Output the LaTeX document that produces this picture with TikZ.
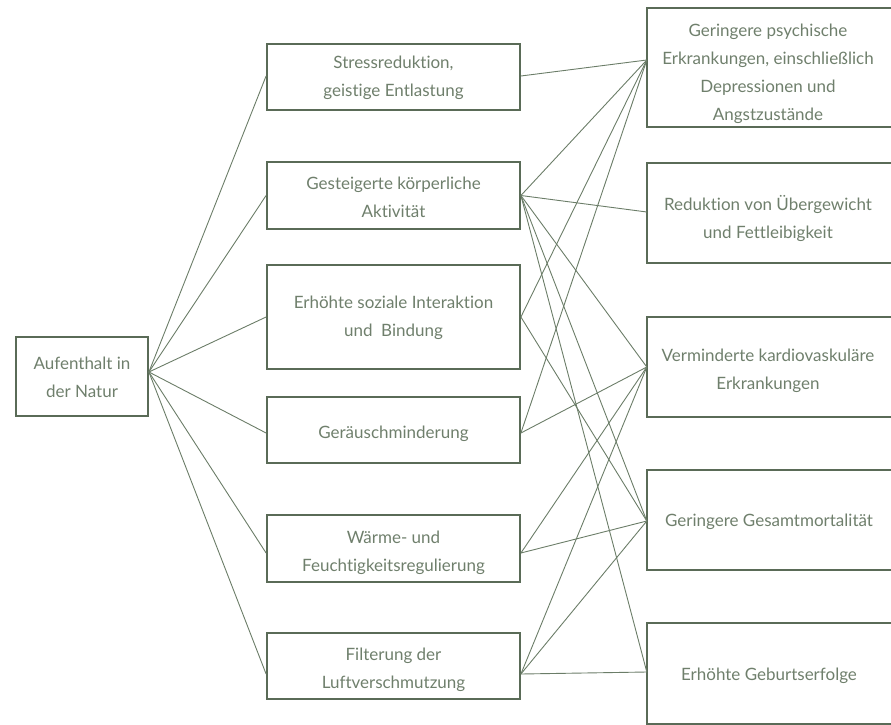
\documentclass[tikz,border=0pt]{standalone}
\usepackage{fontspec}
\setmainfont{Lato}[Ligatures=NoCommon]
\definecolor{boxc}{HTML}{5A6B57}
\definecolor{txtc}{HTML}{6F7F6C}
\definecolor{linec}{HTML}{6B7D68}
\begin{document}
\begin{tikzpicture}[x=1pt,y=-1pt,
  box/.style={draw=boxc, line width=1.8pt, inner sep=0pt},
  rbox/.style={inner sep=0pt, minimum width=244pt},
  lbl/.style={text=txtc, align=center, font=\fontsize{17}{28}\selectfont, inner sep=0pt},
  rframe/.style={draw=boxc, line width=1.8pt},
  conn/.style={draw=linec, line width=0.9pt}]
\useasboundingbox (0,0) rectangle (891,725);
\clip (0,0) rectangle (891,725);
% left
\node[box, minimum width=132pt, minimum height=79pt] (A) at (82,376.5) {};
\node[lbl] (At) at (82,377) {Aufenthalt in\\der Natur};
% middle
\node[box, minimum width=253pt, minimum height=66pt] (M1) at (393.5,77) {};
\node[lbl] (M1t) at (393.5,78) {Stressreduktion,\\geistige Entlastung};
\node[box, minimum width=253pt, minimum height=67pt] (M2) at (393.5,195.5) {};
\node[lbl] (M2t) at (393.5,197.5) {Gesteigerte körperliche\\Aktivität};
\node[box, minimum width=253pt, minimum height=104pt] (M3) at (393.5,317) {};
\node[lbl] (M3t) at (393.5,317.5) {Erhöhte soziale Interaktion\\und\ \ Bindung};
\node[box, minimum width=253pt, minimum height=66pt] (M4) at (393.5,430) {};
\node[lbl] (M4t) at (393.5,434) {Geräuschminderung};
\node[box, minimum width=253pt, minimum height=67pt] (M5) at (393.5,548.5) {};
\node[lbl] (M5t) at (393.5,553) {Wärme- und\\Feuchtigkeitsregulierung};
\node[box, minimum width=253pt, minimum height=66pt] (M6) at (393.5,666) {};
\node[lbl] (M6t) at (393.5,670) {Filterung der\\Luftverschmutzung};
% right
\node[rbox, minimum height=119pt] (R1) at (769,67.5) {};
\node[lbl] (R1t) at (768,74) {Geringere psychische\\Erkrankungen, einschließlich\\Depressionen und\\Angstzustände};
\node[rbox, minimum height=100pt] (R2) at (769,213) {};
\node[lbl] (R2t) at (768,218) {Reduktion von Übergewicht\\und Fettleibigkeit};
\node[rbox, minimum height=100pt] (R3) at (769,367) {};
\node[lbl] (R3t) at (768,371) {Verminderte kardiovaskuläre\\Erkrankungen};
\node[rbox, minimum height=100pt] (R4) at (769,520) {};
\node[lbl] (R4t) at (769,522) {Geringere Gesamtmortalität};
\node[rbox, minimum height=101pt] (R5) at (769,673.5) {};
\node[lbl] (R5t) at (769,676) {Erhöhte Geburtserfolge};
\foreach \r in {R1,R2,R3,R4,R5}{
  \draw[rframe] ([xshift=2pt]\r.north east) -- (\r.north west) -- (\r.south west) -- ([xshift=2pt]\r.south east);
}
% attachment points
\coordinate (Ao) at ([yshift=4.5pt]A.east);
\coordinate (M1i) at ([yshift=1pt]M1.west);   \coordinate (M1o) at ([yshift=1pt]M1.east);
\coordinate (M2i) at (M2.west);               \coordinate (M2o) at (M2.east);
\coordinate (M3i) at (M3.west);               \coordinate (M3o) at (M3.east);
\coordinate (M4i) at ([yshift=-3pt]M4.west);  \coordinate (M4o) at ([yshift=-3pt]M4.east);
\coordinate (M5i) at ([yshift=-4.5pt]M5.west);\coordinate (M5o) at ([yshift=-4.5pt]M5.east);
\coordinate (M6i) at ([yshift=-8pt]M6.west);  \coordinate (M6o) at ([yshift=-8pt]M6.east);
\coordinate (R1i) at ([yshift=7.5pt]R1.west);
\coordinate (R2i) at ([yshift=1pt]R2.west);
\coordinate (R3i) at (R3.west);
\coordinate (R4i) at ([yshift=-1pt]R4.west);
\coordinate (R5i) at ([yshift=1.5pt]R5.west);
% left fan
\foreach \m in {M1i,M2i,M3i,M4i,M5i,M6i}{ \draw[conn] (Ao) -- (\m); }
% middle to right
\draw[conn] (M1o) -- (R1i);
\foreach \r in {R1i,R2i,R3i,R4i,R5i}{ \draw[conn] (M2o) -- (\r); }
\draw[conn] (M3o) -- (R1i);
\draw[conn] (M3o) -- (R4i);
\draw[conn] (M4o) -- (R1i);
\draw[conn] (M4o) -- (R3i);
\draw[conn] (M5o) -- (R3i);
\draw[conn] (M5o) -- (R4i);
\draw[conn] (M6o) -- (R3i);
\draw[conn] (M6o) -- (R4i);
\draw[conn] (M6o) -- (R5i);
\end{tikzpicture}
\end{document}
